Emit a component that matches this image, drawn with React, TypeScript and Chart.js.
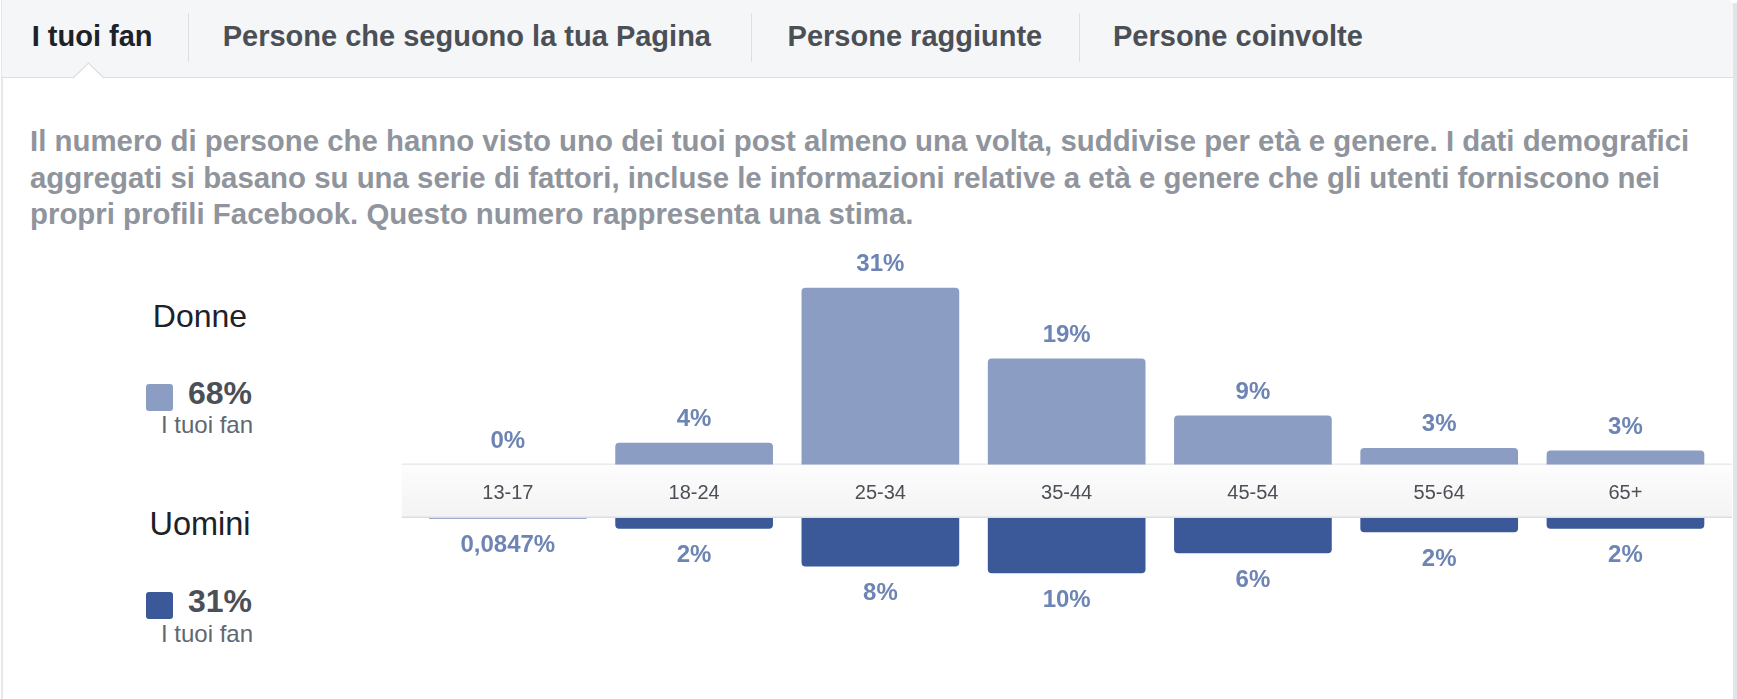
import React, { useEffect, useRef } from "react";
import { Chart, registerables } from "chart.js";

Chart.register(...registerables);

// ---------- data ----------
const AGE_GROUPS = ["13-17", "18-24", "25-34", "35-44", "45-54", "55-64", "65+"];
const WOMEN = [0, 3.8, 31, 18.6, 8.6, 2.9, 2.45];
const MEN = [0.0847, 1.9, 8.5, 9.7, 6.2, 2.5, 1.9];
const WOMEN_LABELS = ["0%", "4%", "31%", "19%", "9%", "3%", "3%"];
const MEN_LABELS = ["0,0847%", "2%", "8%", "10%", "6%", "2%", "2%"];
const TABS = ["I tuoi fan", "Persone che seguono la tua Pagina", "Persone raggiunte", "Persone coinvolte"];
const DESCRIPTION = [
  "Il numero di persone che hanno visto uno dei tuoi post almeno una volta, suddivise per età e genere. I dati demografici",
  "aggregati si basano su una serie di fattori, incluse le informazioni relative a età e genere che gli utenti forniscono nei",
  "propri profili Facebook. Questo numero rappresenta una stima.",
];
const WOMEN_TOTAL = "68%";
const MEN_TOTAL = "31%";
const LEGEND_SUB = "I tuoi fan";

// band between the two series, in value units
const BAND = 9.4;

const FONT = '"Liberation Sans", Arial, Helvetica, sans-serif';
const WOMEN_COLOR = "#8b9dc3";
const MEN_COLOR = "#3b5998";
const LABEL_COLOR = "#6d84b4";

type TProps = {
  x: number;
  y: number;
  size: number;
  text: string;
  weight?: number | string;
  color?: string;
  align?: "left" | "center" | "right";
};

function T({ x, y, size, text, weight = 400, color = "#1d2129", align = "left" }: TProps) {
  const style: React.CSSProperties = {
    position: "absolute",
    top: y - size / 2,
    fontSize: size,
    lineHeight: `${size}px`,
    fontWeight: weight as any,
    color,
    whiteSpace: "nowrap",
  };
  if (align === "left") style.left = x;
  else if (align === "right") style.right = 1737 - x;
  else {
    style.left = x;
    style.transform = "translateX(-50%)";
  }
  return <div style={style}>{text}</div>;
}

export default function App() {
  const canvasRef = useRef<HTMLCanvasElement | null>(null);

  useEffect(() => {
    const canvas = canvasRef.current;
    if (!canvas) return;

    const bandPlugin = {
      id: "band",
      beforeDraw(chart: any) {
        const { ctx, chartArea, scales } = chart;
        const y = scales.y;
        const top = y.getPixelForValue(BAND);
        const bottom = y.getPixelForValue(0);
        const left = 1.7;
        const right = chartArea.right + 13.5;
        ctx.save();
        const g = ctx.createLinearGradient(0, top, 0, bottom);
        g.addColorStop(0, "#fdfdfd");
        g.addColorStop(1, "#f3f3f4");
        ctx.fillStyle = g;
        ctx.fillRect(left, top, right - left, bottom - top);
        ctx.fillStyle = "#e9eaec";
        ctx.fillRect(left, top - 1, right - left, 1.5);
        ctx.fillStyle = "#dcdde0";
        ctx.fillRect(left, bottom - 1.5, right - left, 1.5);
        ctx.restore();
      },
      afterDatasetsDraw(chart: any) {
        const { ctx } = chart;
        ctx.save();
        ctx.font = `bold 24px ${FONT}`;
        ctx.textAlign = "center";
        ctx.textBaseline = "middle";
        ctx.fillStyle = LABEL_COLOR;
        chart.data.datasets.forEach((_ds: any, di: number) => {
          const meta = chart.getDatasetMeta(di);
          meta.data.forEach((bar: any, i: number) => {
            const p = bar.getProps(["x", "y"], true);
            if (di === 0) ctx.fillText(WOMEN_LABELS[i], p.x, p.y - 23.5);
            else ctx.fillText(MEN_LABELS[i], p.x, p.y + 27);
          });
        });
        ctx.restore();
      },
    };

    const chart = new Chart(canvas, {
      type: "bar",
      data: {
        labels: AGE_GROUPS,
        datasets: [
          {
            label: "Donne",
            data: WOMEN.map((v) => [BAND, BAND + v]) as any,
            backgroundColor: WOMEN_COLOR,
            borderRadius: 4,
            borderSkipped: "start",
            grouped: false,
            categoryPercentage: 1,
            barPercentage: 0.8466,
          },
          {
            label: "Uomini",
            data: MEN.map((v) => [0, -v]) as any,
            backgroundColor: MEN_COLOR,
            borderRadius: 4,
            borderSkipped: "start",
            grouped: false,
            categoryPercentage: 1,
            barPercentage: 0.8466,
          },
        ],
      },
      options: {
        animation: false,
        responsive: false,
        devicePixelRatio: 1,
        layout: { padding: { left: 14.7, right: 18.4, top: 41.5, bottom: 48 } },
        plugins: { legend: { display: false }, tooltip: { enabled: false } },
        scales: {
          x: {
            position: { y: BAND } as any,
            grid: { display: false, drawTicks: false },
            border: { display: false },
            ticks: {
              color: "#4b4f56",
              font: { size: 20, family: FONT },
              padding: 17.5,
              maxRotation: 0,
              autoSkip: false,
            },
          },
          y: {
            display: false,
            min: -20,
            max: 45,
          },
        },
      },
      plugins: [bandPlugin],
    });

    return () => chart.destroy();
  }, []);

  const tabX = [31.7, 222.7, 787.6, 1113];
  const sepX = [187.5, 751, 1079];

  return (
    <div
      style={{
        position: "absolute",
        left: 0,
        top: 0,
        width: 1737,
        height: 699,
        overflow: "hidden",
        background: "#ffffff",
        fontFamily: FONT,
      }}
    >
      {/* panel borders */}
      <div style={{ position: "absolute", left: 1, top: 0, width: 1.5, height: 699, background: "#e6e7ea" }} />
      <div style={{ position: "absolute", left: 1733, top: 3, width: 4, height: 696, background: "#e3e4e7" }} />
      {/* tab bar */}
      <div
        style={{
          position: "absolute",
          left: 2,
          top: 0,
          width: 1731,
          height: 77,
          background: "#f5f6f7",
          borderBottom: "1.5px solid #dddfe2",
          borderTopRightRadius: 5,
        }}
      />
      {sepX.map((x, i) => (
        <div key={i} style={{ position: "absolute", left: x, top: 13, width: 1, height: 49, background: "#dddfe2" }} />
      ))}
      {TABS.map((t, i) => (
        <T key={t} x={tabX[i]} y={36.4} size={29} weight="bold" text={t} color={i === 0 ? "#1d2129" : "#4b4f56"} />
      ))}
      <svg style={{ position: "absolute", left: 0, top: 0 }} width={200} height={90}>
        <polygon points="73,79 88.5,63 104,79" fill="#ffffff" />
        <polyline points="73,78 88.5,63 104,78" fill="none" stroke="#dddfe2" strokeWidth={1.2} />
      </svg>

      {/* description */}
      {DESCRIPTION.map((line, i) => (
        <T key={i} x={30} y={140.7 + i * 36.6} size={29.4} weight="bold" color="#90949c" text={line} />
      ))}

      {/* legend */}
      <T x={200} y={316} size={32} align="center" text="Donne" color="#1d2129" />
      <div style={{ position: "absolute", left: 146, top: 384, width: 27, height: 27, borderRadius: 3, background: WOMEN_COLOR }} />
      <T x={252} y={393.3} size={32} weight="bold" align="right" text={WOMEN_TOTAL} color="#4b4f56" />
      <T x={253} y={425.3} size={24} align="right" text={LEGEND_SUB} color="#606770" />

      <T x={200} y={524.5} size={32.5} align="center" text="Uomini" color="#1d2129" />
      <div style={{ position: "absolute", left: 146, top: 592, width: 27, height: 27, borderRadius: 3, background: MEN_COLOR }} />
      <T x={252} y={601} size={32} weight="bold" align="right" text={MEN_TOTAL} color="#4b4f56" />
      <T x={253} y={633.5} size={24} align="right" text={LEGEND_SUB} color="#606770" />

      <canvas
        ref={canvasRef}
        width={1337}
        height={460}
        style={{ position: "absolute", left: 400, top: 220, width: 1337, height: 460 }}
      />
    </div>
  );
}
